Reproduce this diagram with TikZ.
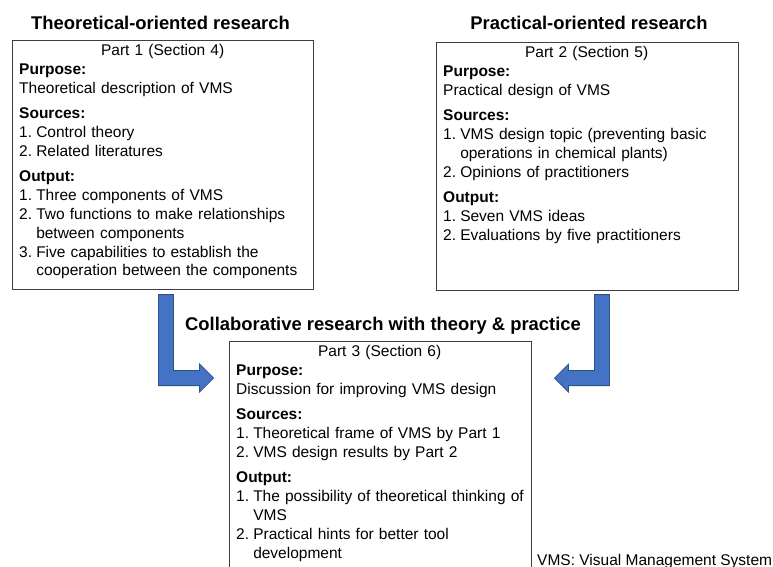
\documentclass[tikz,border=0pt]{standalone}
\usepackage{fontspec}
\setmainfont{Liberation Sans}
\usepackage{tikz}
\usetikzlibrary{calc}
\definecolor{vmsblue}{RGB}{68,114,196}
\definecolor{vmsedge}{RGB}{47,82,143}
\definecolor{vmsframe}{RGB}{64,64,64}

\newcommand{\parthead}[1]{{\centering #1\par}}
\newcommand{\sect}[1]{\vspace{6.8pt}\textbf{#1}\par}
\newcommand{\entry}[2]{\mbox{\makebox[1.1em][l]{#1}#2}\par}

\tikzset{
  frame/.style={draw=vmsframe, line width=1.1pt, anchor=north west, inner sep=0pt},
  boxtext/.style={anchor=north west, text width=287pt, align=left, inner xsep=7pt, inner ysep=4pt, font=\fontsize{15.5}{18.8}\selectfont},
  heading/.style={anchor=base, inner sep=0pt, font=\fontsize{18.4}{22}\selectfont\bfseries},
  blockarrow/.style={fill=vmsblue, draw=vmsedge, line width=0.8pt},
}

\begin{document}
\begin{tikzpicture}[x=1pt,y=-1pt]
\useasboundingbox (0,0) rectangle (773,567);

% frames
\node[frame, minimum width=301pt, minimum height=249pt] (f1) at (12,40) {};
\node[frame, minimum width=302pt, minimum height=248pt] (f2) at (436,42) {};
\node[frame, minimum width=302pt, minimum height=240pt] (f3) at (229,341) {};

% headings
\node[heading] (h1) at ([xshift=-2.5pt,yshift=10.5pt]f1.north) {Theoretical-oriented research};
\node[heading] (h2) at ([xshift=1.5pt,yshift=12.5pt]f2.north) {Practical-oriented research};
\node[heading] (h3) at ([xshift=2.5pt,yshift=11pt]f3.north) {Collaborative research with theory \& practice};

% Part 1
\node[boxtext] (t1) at (f1.north west) {\parthead{Part 1 (Section 4)}
\textbf{Purpose:}\par
Theoretical description of VMS\par
\sect{Sources:}
\entry{1.}{Control theory}
\entry{2.}{Related literatures}
\sect{Output:}
\entry{1.}{Three components of VMS}
\entry{2.}{Two functions to make relationships}
\entry{}{between components}
\entry{3.}{Five capabilities to establish the}
\entry{}{cooperation between the components}};

% Part 2
\node[boxtext] (t2) at (f2.north west) {\parthead{Part 2 (Section 5)}
\textbf{Purpose:}\par
Practical design of VMS\par
\sect{Sources:}
\entry{1.}{VMS design topic (preventing basic}
\entry{}{operations in chemical plants)}
\entry{2.}{Opinions of practitioners}
\sect{Output:}
\entry{1.}{Seven VMS ideas}
\entry{2.}{Evaluations by five practitioners}};

% Part 3
\node[boxtext] (t3) at (f3.north west) {\parthead{Part 3 (Section 6)}
\textbf{Purpose:}\par
Discussion for improving VMS design\par
\sect{Sources:}
\entry{1.}{Theoretical frame of VMS by Part 1}
\entry{2.}{VMS design results by Part 2}
\sect{Output:}
\entry{1.}{The possibility of theoretical thinking of}
\entry{}{VMS}
\entry{2.}{Practical hints for better tool}
\entry{}{development}};

% block arrows into Part 3
\coordinate (a1) at ([xshift=-4.5pt,yshift=-4.5pt]f1.south);
\coordinate (a2) at ([xshift=22pt,yshift=-3.5pt]f2.south);
\draw[blockarrow] (a1) -- ++(15,0) -- ++(0,76) -- ++(26,0) -- ++(0,-6.5) -- ++(14,14)
  -- ++(-14,14) -- ++(0,-6.5) -- ++(-41,0) -- cycle;
\draw[blockarrow] (a2) -- ++(-15,0) -- ++(0,76) -- ++(-26,0) -- ++(0,-6.5) -- ++(-14,14)
  -- ++(14,14) -- ++(0,-6.5) -- ++(41,0) -- cycle;

% abbreviation
\node[anchor=base west, inner sep=0pt, font=\fontsize{15.5}{18.8}\selectfont] (note) at (537,565) {VMS: Visual Management System};
\end{tikzpicture}
\end{document}
